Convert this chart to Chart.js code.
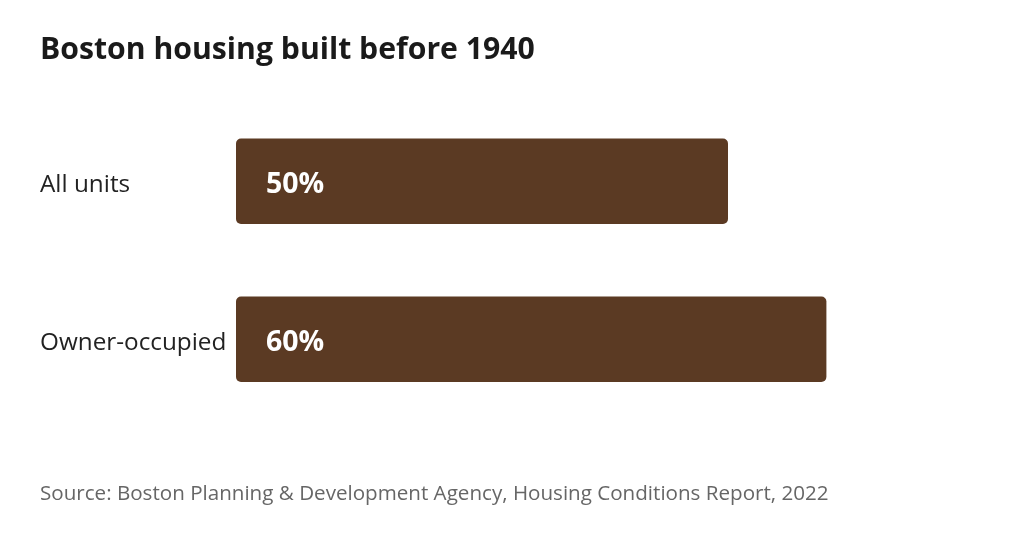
<!DOCTYPE html>
<html>
<head>
<meta charset="utf-8">
<script src="https://cdn.jsdelivr.net/npm/chart.js@4.4.1/dist/chart.umd.min.js"></script>
<style>
  html, body { margin: 0; padding: 0; background: #ffffff; }
  #wrap { width: 1024px; height: 551px; position: relative; }
</style>
</head>
<body>
<div id="wrap"><canvas id="c" width="1024" height="551"></canvas></div>
<script>
const categories = ["All units", "Owner-occupied"];
const values = [50, 60];
const valueLabels = ["50%", "60%"];
const chartTitle = "Boston housing built before 1940";
const sourceText = "Source: Boston Planning & Development Agency, Housing Conditions Report, 2022";

const FONT = "'Open Sans', 'Noto Sans', sans-serif";

const valueLabelPlugin = {
  id: 'valueLabels',
  afterDatasetsDraw(chart) {
    const ctx = chart.ctx;
    const meta = chart.getDatasetMeta(0);
    ctx.save();
    ctx.fillStyle = '#ffffff';
    ctx.font = "bold 28.5px " + FONT;
    ctx.textAlign = 'left';
    ctx.textBaseline = 'middle';
    meta.data.forEach((bar, i) => {
      ctx.fillText(valueLabels[i], bar.base + 30, bar.y + 4);
    });
    ctx.restore();
  }
};

new Chart(document.getElementById('c'), {
  type: 'bar',
  data: {
    labels: categories,
    datasets: [{
      data: values,
      backgroundColor: '#5b3a23',
      borderRadius: 5,
      borderSkipped: false,
      categoryPercentage: 1,
      barPercentage: 0.54
    }]
  },
  options: {
    indexAxis: 'y',
    responsive: false,
    animation: false,
    devicePixelRatio: 1,
    layout: { padding: { left: 40, right: 50, top: 0, bottom: 0 } },
    plugins: {
      legend: { display: false },
      tooltip: { enabled: false },
      title: {
        display: true,
        text: chartTitle,
        align: 'start',
        color: '#1a1a1a',
        font: { family: FONT, size: 30.2, weight: 'bold', lineHeight: 1.2 },
        padding: { top: 32, bottom: 34 }
      },
      subtitle: {
        display: true,
        position: 'bottom',
        text: sourceText,
        align: 'start',
        color: '#666666',
        font: { family: FONT, size: 20.6, weight: 'normal', lineHeight: 1.2 },
        padding: { top: 63, bottom: 45 }
      }
    },
    scales: {
      x: {
        display: false,
        min: 0,
        max: 75
      },
      y: {
        grid: { display: false, drawBorder: false },
        border: { display: false },
        ticks: {
          crossAlign: 'far',
          color: '#222222',
          font: { family: FONT, size: 24.3 },
          padding: 0,
          labelOffset: 4
        },
        afterFit(scale) { scale.width = 196; }
      }
    }
  },
  plugins: [valueLabelPlugin]
});
</script>
</body>
</html>
